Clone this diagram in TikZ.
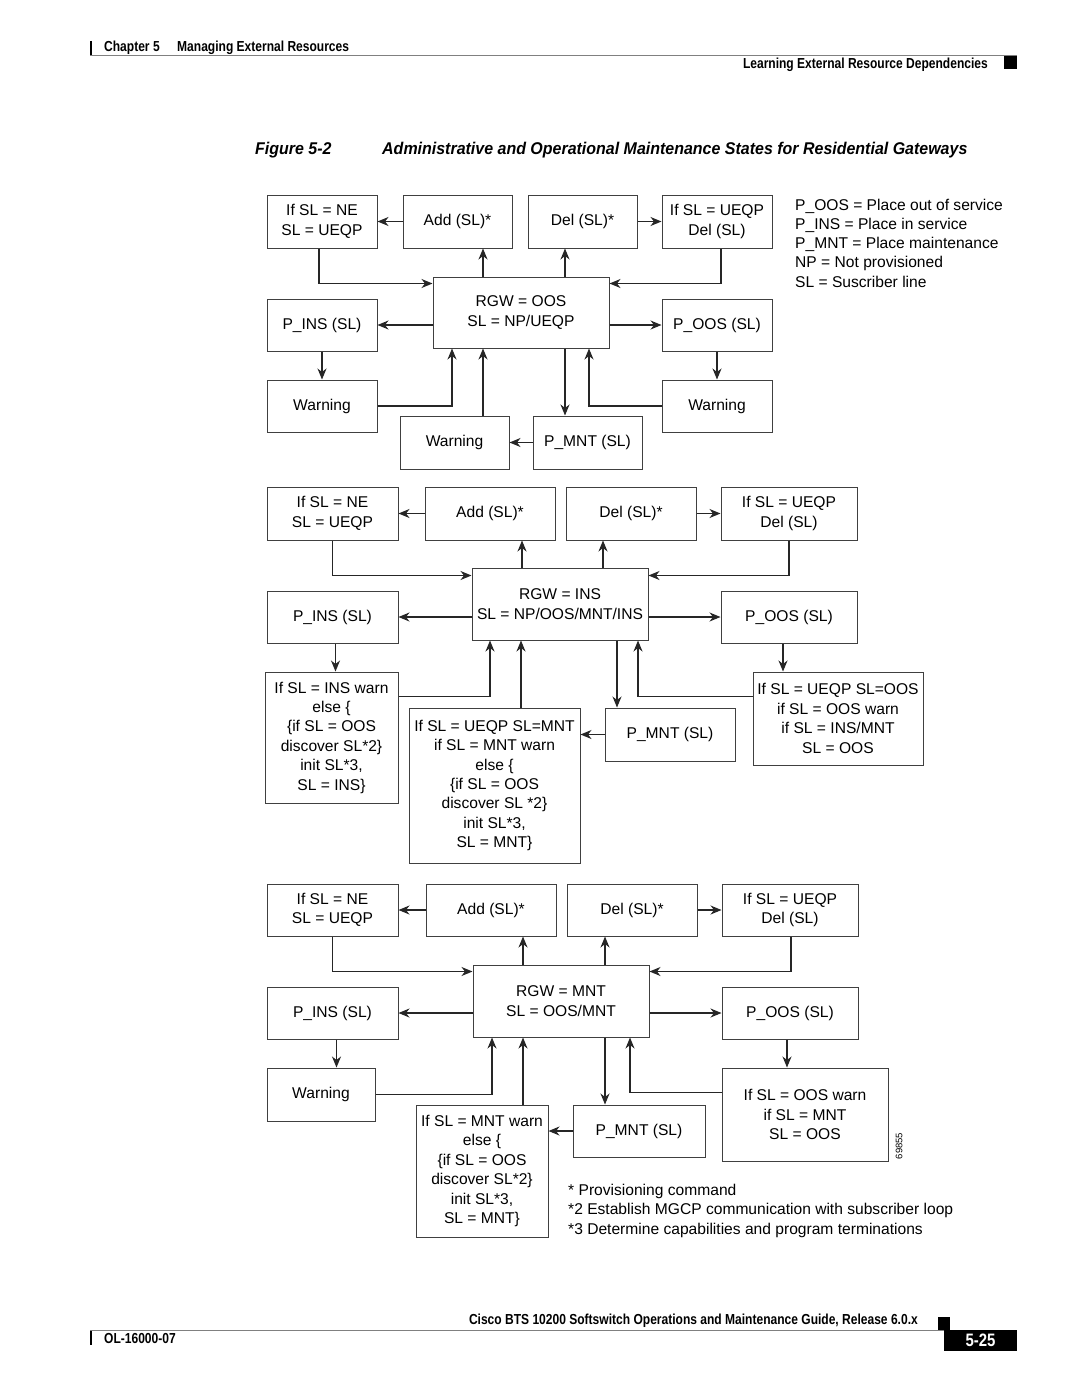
\documentclass[tikz,border=0pt]{standalone}
\usepackage{fontspec}
\setmainfont{Liberation Sans}
\newfontfamily\condfont[FakeStretch=0.83]{Liberation Sans}
\newfontfamily\titlefont[FakeStretch=0.94]{Liberation Sans}
\usetikzlibrary{arrows.meta}
\newcommand{\boxfont}{\fontsize{15.6}{19.4}\selectfont}

\begin{document}
\begin{tikzpicture}[x=1pt, y=-1pt]
    % Define styles
    \tikzstyle{statebox} = [draw=black!75, line width=1pt, inner sep=2pt, minimum height=53pt, align=center, font=\boxfont]
    \tikzstyle{arrow} = [-{Stealth[length=11pt, width=9pt, inset=3.5pt]}, line width=1.1pt, black!85]
    \tikzstyle{legend} = [anchor=base west, inner sep=0pt, font=\boxfont]
    \tikzstyle{pagehead} = [inner sep=0pt, font={\condfont\bfseries\fontsize{14.5}{17}\selectfont}]
    \tikzstyle{figtitle} = [anchor=base west, inner sep=0pt, font={\titlefont\bfseries\itshape\fontsize{17}{20}\selectfont}]

    % Page frame
    \useasboundingbox[fill=white] (0,0) rectangle (1080,1397);

    % Running head
    \draw[line width=2.5pt] (91,41) -- (91,55);
    \draw[black!50, line width=0.6pt] (90,55.5) -- (1017,55.5);
    \fill (1004,56) rectangle (1017,69);
    \node[pagehead, anchor=base west] (chapno) at (104,52) {Chapter 5};
    \node[pagehead, anchor=base west] (chaptitle) at (177,52) {Managing External Resources};
    \node[pagehead, anchor=base east] (section) at (988,69) {Learning External Resource Dependencies};

    % Figure caption
    \node[figtitle] (figno) at (255,154) {Figure 5-2};
    \node[figtitle] (figname) at (382,154) {Administrative and Operational Maintenance States for Residential Gateways};

    % Legend
    \node[legend] (leg1) at (795,210) {P\_OOS = Place out of service};
    \node[legend] (leg2) at (795,229.3) {P\_INS = Place in service};
    \node[legend] (leg3) at (795,248.6) {P\_MNT = Place maintenance};
    \node[legend] (leg4) at (795,267.9) {NP = Not provisioned};
    \node[legend] (leg5) at (795,287.2) {SL = Suscriber line};

    % State 1: RGW out of service
    \node[statebox, minimum width=110pt] (s1ne) at (322,221.5) {If SL = NE\\SL = UEQP};
    \node[statebox, minimum width=109pt] (s1add) at (457.5,221.5) {Add (SL)*};
    \node[statebox, minimum width=109pt] (s1del) at (582.5,221.5) {Del (SL)*};
    \node[statebox, minimum width=110pt] (s1ueqp) at (717,221.5) {If SL = UEQP\\Del (SL)};
    \node[statebox, minimum width=176pt, minimum height=71pt] (s1rgw) at (521,312.5) {RGW = OOS\\SL = NP/UEQP};
    \node[statebox, minimum width=110pt, minimum height=52pt] (s1pins) at (322,325) {P\_INS (SL)};
    \node[statebox, minimum width=110pt, minimum height=52pt] (s1poos) at (717,325) {P\_OOS (SL)};
    \node[statebox, minimum width=110pt, minimum height=52pt] (s1warnl) at (322,406) {Warning};
    \node[statebox, minimum width=110pt, minimum height=52pt] (s1warnr) at (717,406) {Warning};
    \node[statebox, minimum width=109pt] (s1warnb) at (454.5,442.5) {Warning};
    \node[statebox, minimum width=109pt] (s1pmnt) at (587.5,442.5) {P\_MNT (SL)};

    \draw[arrow] (s1add) -- (s1ne);
    \draw[arrow] (s1del) -- (s1ueqp);
    \draw[arrow] ([xshift=-38pt]s1rgw.north) -- ([xshift=-38pt]s1rgw.north |- s1add.south);
    \draw[arrow] ([xshift=44pt]s1rgw.north) -- ([xshift=44pt]s1rgw.north |- s1del.south);
    \draw[arrow] ([xshift=-3pt]s1ne.south) |- ([yshift=-7pt]s1rgw.north west);
    \draw[arrow] ([xshift=4pt]s1ueqp.south) |- ([yshift=-7pt]s1rgw.north east);
    \draw[arrow] (s1rgw.west |- s1pins.east) -- (s1pins.east);
    \draw[arrow] (s1rgw.east |- s1poos.west) -- (s1poos.west);
    \draw[arrow] (s1pins) -- (s1warnl);
    \draw[arrow] (s1poos) -- (s1warnr);
    \draw[arrow] (s1warnl.east) -| ([xshift=-69pt]s1rgw.south);
    \draw[arrow] ([xshift=-38pt]s1rgw.south |- s1warnb.north) -- ([xshift=-38pt]s1rgw.south);
    \draw[arrow] ([xshift=44pt]s1rgw.south) -- ([xshift=44pt]s1rgw.south |- s1pmnt.north);
    \draw[arrow] (s1warnr.west) -| ([xshift=68pt]s1rgw.south);
    \draw[arrow] (s1pmnt) -- (s1warnb);

    % State 2: RGW in service
    \node[statebox, minimum width=131pt] (s2ne) at (332.5,513.5) {If SL = NE\\SL = UEQP};
    \node[statebox, minimum width=130pt] (s2add) at (490,513.5) {Add (SL)*};
    \node[statebox, minimum width=130pt] (s2del) at (631,513.5) {Del (SL)*};
    \node[statebox, minimum width=136pt] (s2ueqp) at (789,513.5) {If SL = UEQP\\Del (SL)};
    \node[statebox, minimum width=176pt, minimum height=72pt] (s2rgw) at (560,604) {RGW = INS\\SL = NP/OOS/MNT/INS};
    \node[statebox, minimum width=131pt, minimum height=52pt] (s2pins) at (332.5,617) {P\_INS (SL)};
    \node[statebox, minimum width=136pt, minimum height=52pt] (s2poos) at (789,617) {P\_OOS (SL)};
    \node[statebox, minimum width=133pt, minimum height=131pt] (s2insw) at (331.5,737.5) {If SL = INS warn\\else \{\\\{if SL = OOS\\discover SL*2\}\\init SL*3,\\SL = INS\}};
    \node[statebox, minimum width=171pt, minimum height=155pt] (s2mntw) at (494.5,785.5) {If SL = UEQP SL=MNT\\if SL = MNT warn\\else \{\\\{if SL = OOS\\discover SL *2\}\\init SL*3,\\SL = MNT\}};
    \node[statebox, minimum width=130pt] (s2pmnt) at (670,734.5) {P\_MNT (SL)};
    \node[statebox, minimum width=170pt, minimum height=93pt] (s2oosw) at (838,718.5) {If SL = UEQP SL=OOS\\if SL = OOS warn\\if SL = INS/MNT\\SL = OOS};

    \draw[arrow] (s2add) -- (s2ne);
    \draw[arrow] (s2del) -- (s2ueqp);
    \draw[arrow] ([xshift=-38pt]s2rgw.north) -- ([xshift=-38pt]s2rgw.north |- s2add.south);
    \draw[arrow] ([xshift=43pt]s2rgw.north) -- ([xshift=43pt]s2rgw.north |- s2del.south);
    \draw[arrow] (s2ne.south) |- ([yshift=-8pt]s2rgw.north west);
    \draw[arrow] (s2ueqp.south) |- ([yshift=-8pt]s2rgw.north east);
    \draw[arrow] (s2rgw.west |- s2pins.east) -- (s2pins.east);
    \draw[arrow] (s2rgw.east |- s2poos.west) -- (s2poos.west);
    \draw[arrow] ([xshift=3pt]s2pins.south) -- ([xshift=3pt]s2pins.south |- s2insw.north);
    \draw[arrow] ([xshift=-6pt]s2poos.south) -- ([xshift=-6pt]s2poos.south |- s2oosw.north);
    \draw[arrow] ([yshift=-25pt]s2insw.north east) -| ([xshift=-70pt]s2rgw.south);
    \draw[arrow] ([xshift=-39pt]s2rgw.south |- s2mntw.north) -- ([xshift=-39pt]s2rgw.south);
    \draw[arrow] ([xshift=57pt]s2rgw.south) -- ([xshift=57pt]s2rgw.south |- s2pmnt.north);
    \draw[arrow] ([yshift=-25pt]s2oosw.north west) -| ([xshift=78pt]s2rgw.south);
    \draw[arrow] (s2pmnt.west) -- (s2pmnt.west -| s2mntw.east);

    % State 3: RGW in maintenance
    \node[statebox, minimum width=131pt, minimum height=52pt] (s3ne) at (332.5,910) {If SL = NE\\SL = UEQP};
    \node[statebox, minimum width=130pt, minimum height=52pt] (s3add) at (491,910) {Add (SL)*};
    \node[statebox, minimum width=130pt, minimum height=52pt] (s3del) at (632,910) {Del (SL)*};
    \node[statebox, minimum width=136pt, minimum height=52pt] (s3ueqp) at (790,910) {If SL = UEQP\\Del (SL)};
    \node[statebox, minimum width=176pt, minimum height=72pt] (s3rgw) at (561,1001) {RGW = MNT\\SL = OOS/MNT};
    \node[statebox, minimum width=131pt, minimum height=52pt] (s3pins) at (332.5,1013) {P\_INS (SL)};
    \node[statebox, minimum width=136pt, minimum height=52pt] (s3poos) at (790,1013) {P\_OOS (SL)};
    \node[statebox, minimum width=108pt] (s3warn) at (321,1094.5) {Warning};
    \node[statebox, minimum width=132pt, minimum height=132pt] (s3mntw) at (482,1171) {If SL = MNT warn\\else \{\\\{if SL = OOS\\discover SL*2\}\\init SL*3,\\SL = MNT\}};
    \node[statebox, minimum width=132pt, minimum height=52pt] (s3pmnt) at (639,1131) {P\_MNT (SL)};
    \node[statebox, minimum width=166pt, minimum height=93pt] (s3oosw) at (805,1114.5) {If SL = OOS warn\\if SL = MNT\\SL = OOS};

    \draw[arrow] (s3add) -- (s3ne);
    \draw[arrow] (s3del) -- (s3ueqp);
    \draw[arrow] ([xshift=-38pt]s3rgw.north) -- ([xshift=-38pt]s3rgw.north |- s3add.south);
    \draw[arrow] ([xshift=44pt]s3rgw.north) -- ([xshift=44pt]s3rgw.north |- s3del.south);
    \draw[arrow] (s3ne.south) |- ([yshift=-7pt]s3rgw.north west);
    \draw[arrow] ([xshift=1pt]s3ueqp.south) |- ([yshift=-7pt]s3rgw.north east);
    \draw[arrow] (s3rgw.west |- s3pins.east) -- (s3pins.east);
    \draw[arrow] (s3rgw.east |- s3poos.west) -- (s3poos.west);
    \draw[arrow] ([xshift=4pt]s3pins.south) -- ([xshift=4pt]s3pins.south |- s3warn.north);
    \draw[arrow] ([xshift=-3pt]s3poos.south) -- ([xshift=-3pt]s3poos.south |- s3oosw.north);
    \draw[arrow] (s3warn.east) -| ([xshift=-69pt]s3rgw.south);
    \draw[arrow] ([xshift=-38pt]s3rgw.south |- s3mntw.north) -- ([xshift=-38pt]s3rgw.south);
    \draw[arrow] ([xshift=44pt]s3rgw.south) -- ([xshift=44pt]s3rgw.south |- s3pmnt.north);
    \draw[arrow] ([yshift=-25pt]s3oosw.north west) -| ([xshift=69pt]s3rgw.south);
    \draw[arrow] (s3pmnt.west) -- (s3pmnt.west -| s3mntw.east);

    % Figure number and footnotes
    \node[rotate=90, inner sep=0pt, font=\fontsize{9.5}{11}\selectfont] (figid) at (899,1146) {69855};
    \node[legend] (note1) at (568,1195) {* Provisioning command};
    \node[legend] (note2) at (568,1214.5) {*2 Establish MGCP communication with subscriber loop};
    \node[legend] (note3) at (568,1234) {*3 Determine capabilities and program terminations};

    % Running foot
    \fill (938,1317) rectangle (950,1330);
    \draw[black!50, line width=0.6pt] (90,1330) -- (1017,1330);
    \draw[line width=2.5pt] (91,1331) -- (91,1345);
    \node[pagehead, anchor=base east] (guide) at (918,1324) {Cisco BTS 10200 Softswitch Operations and Maintenance Guide, Release 6.0.x};
    \node[pagehead, anchor=base west] (docnum) at (104,1343) {OL-16000-07};
    \node[fill=black, text=white, minimum width=73pt, minimum height=21pt, inner sep=0pt, font={\condfont\bfseries\fontsize{18}{20}\selectfont}] (pageno) at (980.5,1340.5) {5-25};
\end{tikzpicture}
\end{document}
